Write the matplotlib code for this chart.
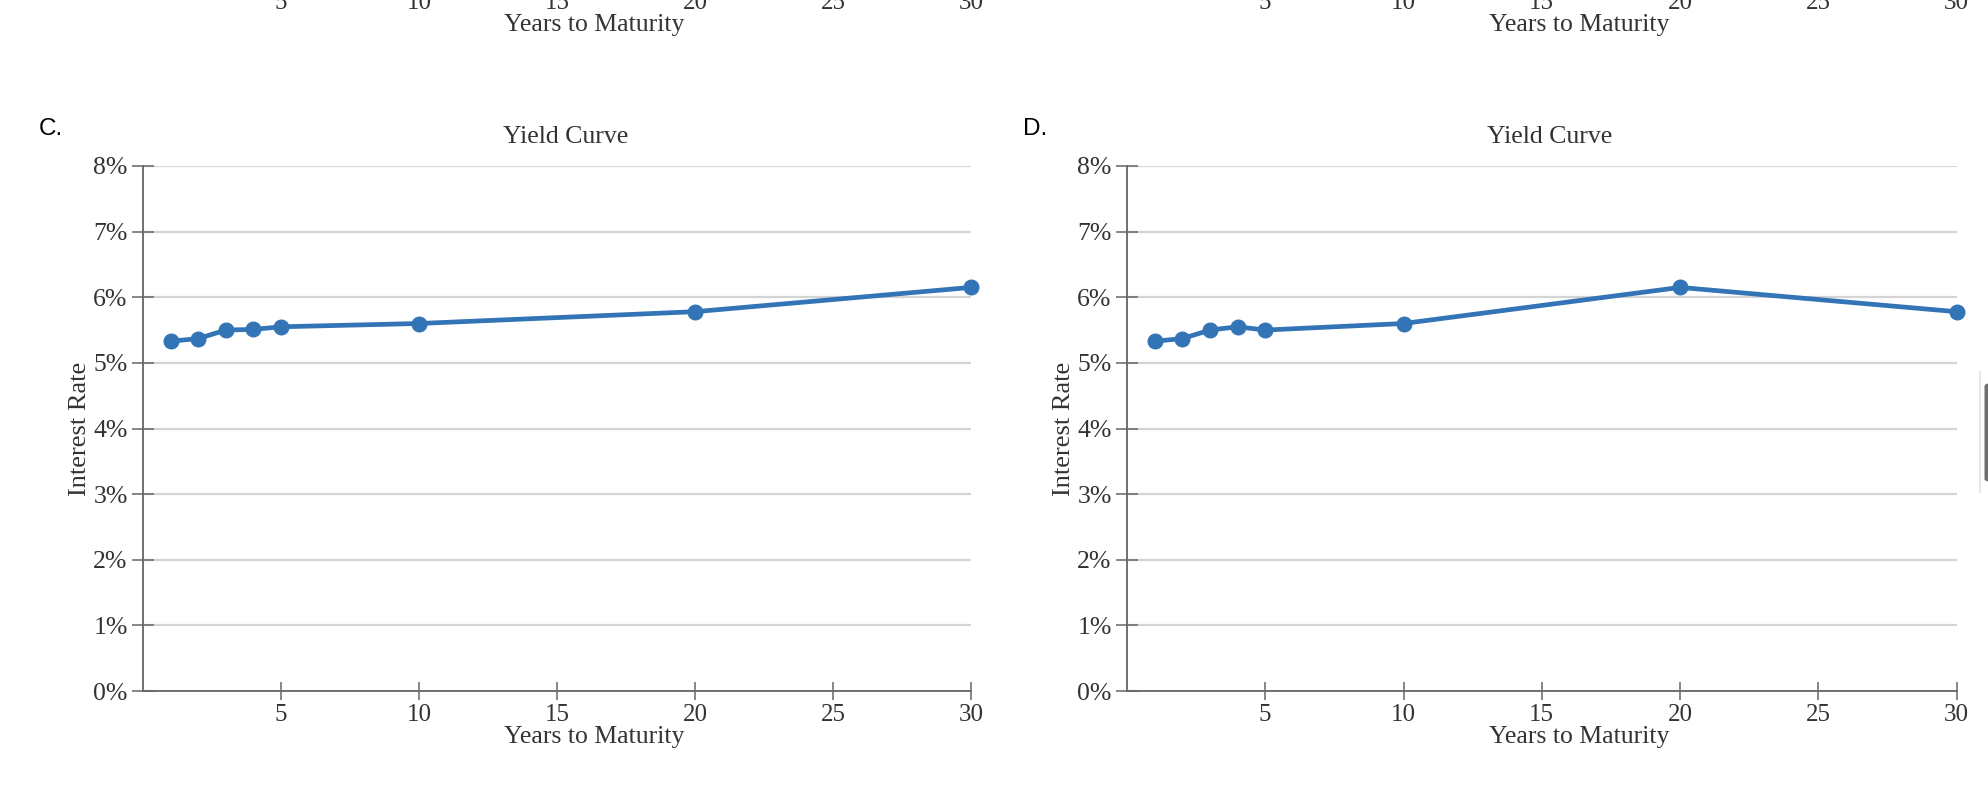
import matplotlib.pyplot as plt
from matplotlib.patches import FancyBboxPatch
from matplotlib.lines import Line2D

# data
maturities = [1, 2, 3, 4, 5, 10, 20, 30]
rates_c = [5.33, 5.37, 5.50, 5.51, 5.55, 5.60, 5.78, 6.15]
rates_d = [5.33, 5.37, 5.50, 5.55, 5.50, 5.60, 6.15, 5.78]
x_ticks = [5, 10, 15, 20, 25, 30]
y_ticks = [0, 1, 2, 3, 4, 5, 6, 7, 8]
panel_letters = ['C.', 'D.']

W, H = 1988, 800
SERIF = ['Liberation Serif', 'DejaVu Serif']
TXT = '#333333'
BLUE = '#3274b5'

plt.rcParams['font.family'] = SERIF

fig = plt.figure(figsize=(W / 100, H / 100), dpi=100)

# pixel boxes of the two visible panels: (left, right, top, bottom)
boxes = [(143, 971, 166, 691), (1127, 1956.5, 166, 691)]


def px_axes(x0, x1, ytop, ybot):
    return fig.add_axes([x0 / W, 1 - ybot / H, (x1 - x0) / W, (ybot - ytop) / H])


def style_xaxis(ax):
    ax.set_xlim(0, 30)
    ax.set_xticks(x_ticks)
    ax.set_xticklabels([str(t) for t in x_ticks])
    ax.tick_params(axis='x', direction='inout', length=13, width=1.1,
                   color='#666666', labelsize=18, labelcolor=TXT, pad=3)
    ax.text(0.545, -(743 - 691) / 525, 'Years to Maturity', transform=ax.transAxes,
            ha='center', va='baseline', fontsize=18.5, color=TXT)


for (x0, x1, yt, yb), rates, letter in zip(boxes, [rates_c, rates_d], panel_letters):
    ax = px_axes(x0, x1, yt, yb)
    style_xaxis(ax)
    ax.set_ylim(0, 8)
    ax.set_yticks(y_ticks)
    ax.set_yticklabels(['%d%%' % t for t in y_ticks])
    ax.tick_params(axis='y', direction='inout', length=16, width=1.1,
                   color='#666666', labelsize=18.5, labelcolor=TXT, pad=3)
    for s in ['top', 'right']:
        ax.spines[s].set_visible(False)
    for s in ['left', 'bottom']:
        ax.spines[s].set_color('#666666')
        ax.spines[s].set_linewidth(1.3)
    ax.yaxis.grid(True, color='#d4d4d4', linewidth=1.6)
    ax.set_axisbelow(True)

    ax.plot(maturities, rates, color=BLUE, linewidth=3.4, marker='o',
            markersize=10.5, clip_on=False, zorder=5)

    ax.text(0.51, 1 + 23 / 525, 'Yield Curve', transform=ax.transAxes,
            ha='center', va='baseline', fontsize=18.5, color=TXT)
    ax.text(-63 / 828, 0.5, 'Interest Rate', transform=ax.transAxes, rotation=90,
            ha='center', va='center', fontsize=19, color=TXT)
    fig.text((x0 - 104) / W, 1 - 135 / H, letter, fontsize=17.5,
             family=['Liberation Sans', 'DejaVu Sans'], color='black',
             ha='left', va='baseline')

    # x axis of the panel above, cut off by the top edge
    top = px_axes(x0, x1, -21 - 525, -21)
    style_xaxis(top)
    top.set_ylim(0, 8)
    top.set_yticks([])
    for s in top.spines.values():
        s.set_visible(False)
    top.patch.set_visible(False)

# scrollbar remnant at the right edge
fig.add_artist(Line2D([1980 / W, 1980 / W], [1 - 372 / H, 1 - 492 / H],
                      transform=fig.transFigure, color='#e2e2e2', linewidth=1.2))
fig.add_artist(FancyBboxPatch((1984.5 / W, 1 - 482 / H), 8 / W, 99 / H,
                              boxstyle='round,pad=0,rounding_size=0.004',
                              transform=fig.transFigure, facecolor='#6e6e6e',
                              edgecolor='none'))

fig.savefig('out.png', dpi=100)
